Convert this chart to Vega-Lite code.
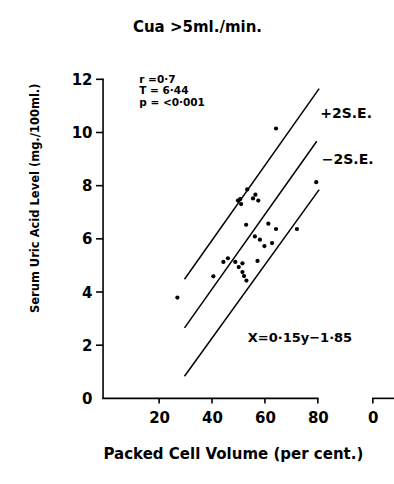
{
  "$schema": "https://vega.github.io/schema/vega-lite/v6.json",
  "width": 301,
  "height": 335,
  "autosize": {"type": "none"},
  "padding": {"left": 93, "top": 74, "right": 0, "bottom": 75},
  "background": "white",
  "config": {
    "font": "DejaVu Sans",
    "view": {"stroke": null},
    "mark": {"invalid": "show"}
  },
  "title": {
    "text": "Cua >5ml./min.",
    "fontSize": 15,
    "fontWeight": "bold",
    "font": "DejaVu Sans",
    "color": "black",
    "anchor": "middle",
    "dx": -46,
    "offset": 37
  },
  "datasets": {
    "points": [
      {"pcv": 26.9, "ua": 3.79},
      {"pcv": 40.5, "ua": 4.59},
      {"pcv": 44.3, "ua": 5.13},
      {"pcv": 46.0, "ua": 5.27},
      {"pcv": 48.8, "ua": 5.13},
      {"pcv": 50.1, "ua": 4.94},
      {"pcv": 51.5, "ua": 5.08},
      {"pcv": 51.5, "ua": 4.75},
      {"pcv": 52.1, "ua": 4.60},
      {"pcv": 53.0, "ua": 4.43},
      {"pcv": 57.2, "ua": 5.17},
      {"pcv": 52.9, "ua": 6.53},
      {"pcv": 56.2, "ua": 6.09},
      {"pcv": 58.1, "ua": 5.97},
      {"pcv": 59.8, "ua": 5.73},
      {"pcv": 62.7, "ua": 5.84},
      {"pcv": 61.3, "ua": 6.57},
      {"pcv": 64.2, "ua": 6.37},
      {"pcv": 72.1, "ua": 6.37},
      {"pcv": 49.8, "ua": 7.44},
      {"pcv": 51.0, "ua": 7.31},
      {"pcv": 50.6, "ua": 7.49},
      {"pcv": 53.3, "ua": 7.86},
      {"pcv": 55.5, "ua": 7.52},
      {"pcv": 56.4, "ua": 7.66},
      {"pcv": 57.5, "ua": 7.44},
      {"pcv": 64.2, "ua": 10.15},
      {"pcv": 79.4, "ua": 8.13}
    ],
    "lines": [
      {"name": "upper", "x1": 29.6, "y1": 4.48, "x2": 80.5, "y2": 11.65},
      {"name": "middle", "x1": 29.6, "y1": 2.65, "x2": 79.6, "y2": 9.67},
      {"name": "lower", "x1": 29.6, "y1": 0.83, "x2": 80.5, "y2": 7.85}
    ],
    "axisframe": [
      {"part": "x axis", "xa": -1.5, "xb": 80.3, "ya": -0.03, "yb": 0.03},
      {"part": "x axis (second)", "xa": 100.5, "xb": 108.8, "ya": -0.03, "yb": 0.03},
      {"part": "y axis", "xa": -1.5, "xb": -0.9, "ya": 0, "yb": 12.03},
      {"part": "x tick 20", "xa": 19.7, "xb": 20.3, "ya": -0.19, "yb": 0},
      {"part": "x tick 40", "xa": 39.7, "xb": 40.3, "ya": -0.19, "yb": 0},
      {"part": "x tick 60", "xa": 59.7, "xb": 60.3, "ya": -0.19, "yb": 0},
      {"part": "x tick 80", "xa": 79.7, "xb": 80.3, "ya": -0.19, "yb": 0},
      {"part": "x tick 0 (second)", "xa": 100.5, "xb": 101.1, "ya": -0.19, "yb": 0},
      {"part": "y tick 2", "xa": -3.85, "xb": -1.2, "ya": 1.97, "yb": 2.03},
      {"part": "y tick 4", "xa": -3.85, "xb": -1.2, "ya": 3.97, "yb": 4.03},
      {"part": "y tick 6", "xa": -3.85, "xb": -1.2, "ya": 5.97, "yb": 6.03},
      {"part": "y tick 8", "xa": -3.85, "xb": -1.2, "ya": 7.97, "yb": 8.03},
      {"part": "y tick 10", "xa": -3.85, "xb": -1.2, "ya": 9.97, "yb": 10.03},
      {"part": "y tick 12", "xa": -3.85, "xb": -1.2, "ya": 11.97, "yb": 12.03}
    ],
    "stats": [
      {"label": ["r =0·7", "T = 6·44", "p = <0·001"], "x": 12.5, "y": 11.98}
    ],
    "notes": [
      {"label": "+2S.E.", "x": 80.9, "y": 10.68},
      {"label": "−2S.E.", "x": 81.5, "y": 8.95}
    ],
    "eq": [
      {"label": "X=0·15y−1·85", "x": 53.5, "y": 2.28}
    ]
  },
  "layer": [
    {
      "data": {"name": "points"},
      "mark": {"type": "circle", "color": "black", "opacity": 1, "size": 18},
      "encoding": {
        "x": {
          "field": "pcv",
          "type": "quantitative",
          "scale": {"domain": [-5, 108.8], "nice": false, "zero": false, "padding": 0},
          "axis": {
            "values": [20, 40, 60, 80, 100.8],
            "labelExpr": "datum.value > 90 ? '0' : datum.label",
            "domain": false,
            "grid": false,
            "ticks": false,
            "tickSize": 0,
            "labelFontSize": 15,
            "labelFont": "DejaVu Sans",
            "labelFontWeight": "bold",
            "labelColor": "black",
            "labelPadding": 1,
            "title": "Packed  Cell  Volume  (per  cent.)",
            "titleFontSize": 15,
            "titleFont": "DejaVu Sans",
            "titleFontWeight": "bold",
            "titleColor": "black",
            "titleAlign": "left",
            "titleAnchor": "start",
            "titleBaseline": "middle",
            "titleX": 10,
            "titleY": 44
          }
        },
        "y": {
          "field": "ua",
          "type": "quantitative",
          "scale": {"domain": [-0.4, 12.2], "nice": false, "zero": false, "padding": 0},
          "axis": {
            "values": [0, 2, 4, 6, 8, 10, 12],
            "domain": false,
            "grid": false,
            "ticks": false,
            "tickSize": 0,
            "labelFontSize": 15,
            "labelFont": "DejaVu Sans",
            "labelFontWeight": "bold",
            "labelColor": "black",
            "labelPadding": 1,
            "title": "Serum Uric Acid Level (mg./100ml.)",
            "titleFontSize": 11.5,
            "titleFont": "DejaVu Sans",
            "titleFontWeight": "bold",
            "titleColor": "black",
            "titleAngle": -90,
            "titleAlign": "right",
            "titleBaseline": "middle",
            "titleX": -58,
            "titleY": 9
          }
        }
      }
    },
    {
      "data": {"name": "axisframe"},
      "mark": {"type": "rect", "color": "black", "invalid": "show"},
      "encoding": {
        "x": {"field": "xa", "type": "quantitative"},
        "x2": {"field": "xb"},
        "y": {"field": "ya", "type": "quantitative"},
        "y2": {"field": "yb"}
      }
    },
    {
      "data": {"name": "lines"},
      "mark": {"type": "rule", "color": "black", "strokeWidth": 1.5},
      "encoding": {
        "x": {"field": "x1", "type": "quantitative"},
        "x2": {"field": "x2"},
        "y": {"field": "y1", "type": "quantitative"},
        "y2": {"field": "y2"}
      }
    },
    {
      "data": {"name": "stats"},
      "mark": {"type": "text", "align": "left", "baseline": "middle", "fontSize": 10.5, "lineHeight": 11.5, "fontWeight": "bold", "font": "DejaVu Sans", "color": "black"},
      "encoding": {
        "x": {"field": "x", "type": "quantitative"},
        "y": {"field": "y", "type": "quantitative"},
        "text": {"field": "label"}
      }
    },
    {
      "data": {"name": "notes"},
      "mark": {"type": "text", "align": "left", "baseline": "middle", "fontSize": 14, "fontWeight": "bold", "font": "DejaVu Sans", "color": "black"},
      "encoding": {
        "x": {"field": "x", "type": "quantitative"},
        "y": {"field": "y", "type": "quantitative"},
        "text": {"field": "label"}
      }
    },
    {
      "data": {"name": "eq"},
      "mark": {"type": "text", "align": "left", "baseline": "middle", "fontSize": 13, "fontWeight": "bold", "font": "DejaVu Sans", "color": "black"},
      "encoding": {
        "x": {"field": "x", "type": "quantitative"},
        "y": {"field": "y", "type": "quantitative"},
        "text": {"field": "label"}
      }
    }
  ]
}
